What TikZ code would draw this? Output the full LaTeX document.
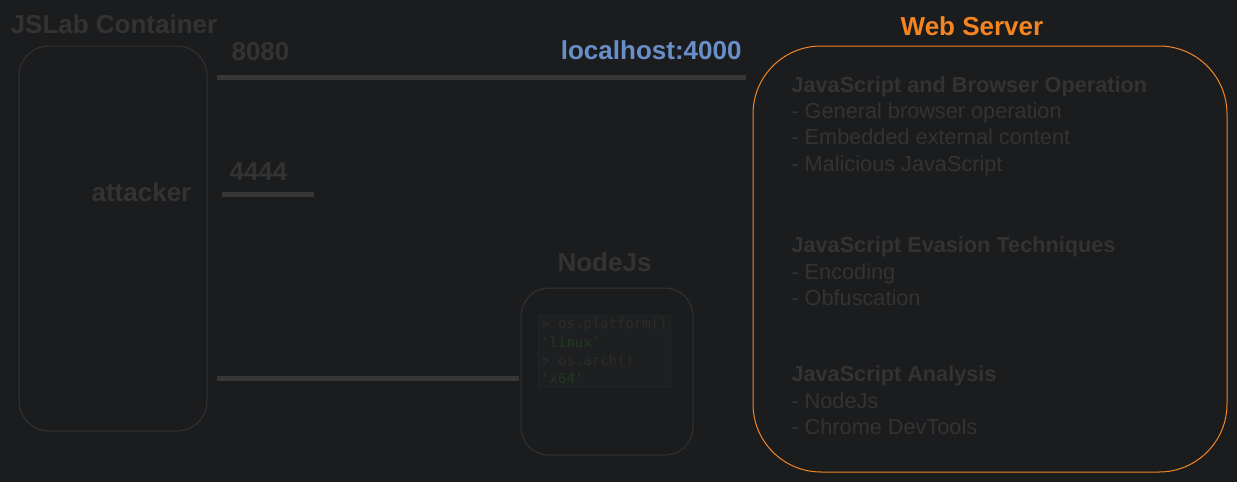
\documentclass[tikz,border=0pt]{standalone}
\usepackage{fontspec}
\setmainfont{Liberation Sans}
\setmonofont{DejaVu Sans Mono}
\usetikzlibrary{positioning}

\definecolor{bg}{HTML}{1B1C1E}
\definecolor{dim}{HTML}{333333}
\definecolor{wiregray}{HTML}{373737}
\definecolor{weborange}{HTML}{F48521}
\definecolor{hostblue}{HTML}{6A8FC8}
\definecolor{codebg}{HTML}{1E1F20}
\definecolor{codeedge}{HTML}{222324}
\definecolor{codegray}{HTML}{2C2C2C}
\definecolor{codegreen}{HTML}{213A22}

\begin{document}
\begin{tikzpicture}[x = 1pt, y = -1pt, % pixel grid, y going down
                line width = 1pt
            ]

            \tikzstyle{box}=[draw = dim, rounded corners = 30pt]
            \tikzstyle{title}=[text = dim, inner sep = 0pt,
            font = \bfseries\fontsize{26}{30}\selectfont]
            % base anchor = baseline of the last line
            \tikzstyle{sect}=[anchor = base west, align = left, text = dim,
            inner sep = 0pt, font = \fontsize{21.7}{26.3}\selectfont]
            \tikzstyle{wire}=[draw = wiregray, line width = 5pt]

            % background
            \fill[bg] (0,0) rectangle (1237,482);
            \useasboundingbox (0,0) rectangle (1237,482);

            % boxes
            \node[box, minimum width = 188pt, minimum height = 385pt] (jslab)
            at (113,238.5) {}; \node[box, rounded corners = 28pt, minimum width
            = 172pt, minimum height = 167pt] (nodejs) at (607,371.5) {};
            \node[box, draw = weborange, rounded corners = 68pt, minimum width
            = 474pt, minimum height = 426pt] (web) at (990,259) {};

            % labels
            \node[title, anchor = base] (jslabtitle) at (114,33) {JSLab
            Container}; \node[title, anchor = base] (attacker) at (141.5,201)
            {attacker}; \node[title, anchor = base] (port8080) at (260.5,60)
            {8080}; \node[title, anchor = base] (port4444) at (258.5,180)
            {4444}; \node[title, anchor = base east, text = hostblue] (host)
            at (742,59) {localhost:4000}; \node[title, anchor = base]
            (nodejstitle) at (604.5,271.5) {NodeJs}; \node[title, anchor =
            base, text = weborange] (webtitle) at (972,35) {Web Server};

            % wires
            \coordinate (w1a) at (217,77); \coordinate (w1b) at (746,77);
            \coordinate (w2a) at (222,194.5); \coordinate (w2b) at
            (314,194.5); \coordinate (w3a) at (217,378.5);

            \path[wire] (w1a) edge (w1b); \path[wire] (w2a) edge (w2b);
            \path[wire, shorten > = 1.5pt] (w3a) edge (w3a -| nodejs.west);

            % console
            \node[anchor = north west, fill = codebg, draw = codeedge,
            line width = 0.5pt, inner xsep = 3pt, inner ysep = 3pt, align = left,
            font = \ttfamily\fontsize{14}{18.3}\selectfont] (console) at
            (538,315) {\textcolor{codegray}{> os.platform()}\\
            \textcolor{codegreen}{'linux'}\\ \textcolor{codegray}{> os.arch()}\\
            \textcolor{codegreen}{'x64'}};

            % topics
            \node[sect] (ops) at (791,171) {\textbf{JavaScript and Browser
            Operation}\\- General browser operation\\- Embedded external
            content\\- Malicious JavaScript}; \node[sect] (evasion) at
            (791,305.3) {\textbf{JavaScript Evasion Techniques}\\-
            Encoding\\- Obfuscation}; \node[sect] (analysis) at (791,434.5)
            {\textbf{JavaScript Analysis}\\- NodeJs\\- Chrome DevTools};
            \end{tikzpicture}
\end{document}
